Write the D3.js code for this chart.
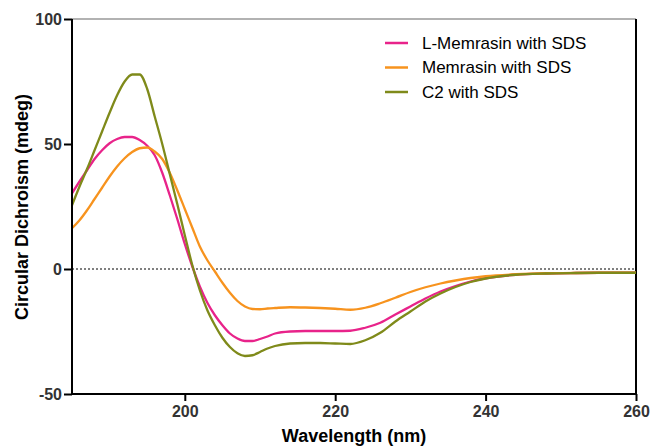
<!DOCTYPE html>
<html>
<head>
<meta charset="utf-8">
<script src="https://cdn.jsdelivr.net/npm/d3@7/dist/d3.min.js"></script>
<style>
  body { margin: 0; background: #fff; }
  svg { display: block; font-family: Arial, "Liberation Sans", sans-serif; }
</style>
</head>
<body>
<svg id="chart" width="651" height="448"></svg>
<script>
// wavelength (nm)
var wavelength = [185,186,187,188,189,190,191,192,193,194,195,196,197,198,199,200,
  201,202,203,204,205,206,207,208,209,210,211,212,214,216,218,220,222,224,226,228,
  230,232,234,236,238,240,244,248,252,256,260];

// CD signal (mdeg)
var lMemrasin = [30.3,35,39.5,44,47.5,50.3,52,52.8,52.8,51.6,49.3,45.5,38.5,29.5,20,10,
  1,-7,-13.5,-18.5,-22.5,-25.8,-27.8,-28.8,-28.8,-28,-27,-25.8,-25,-24.8,-24.8,-24.8,-24.7,-23.5,-21.5,-18.2,
  -15,-11.8,-9,-6.8,-5,-3.7,-2.3,-1.8,-1.6,-1.5,-1.5];

var memrasin = [16.3,19.5,23.5,28,32.5,37,41,44.3,46.8,48.3,48.6,47,44,38.5,31.5,24,
  16.5,9,3.5,-1,-5.5,-9.5,-12.8,-15,-16,-16.1,-15.8,-15.6,-15.3,-15.4,-15.6,-15.9,-16.3,-15.5,-13.7,-11.5,
  -9.2,-7.3,-5.8,-4.6,-3.6,-2.9,-2.1,-1.7,-1.6,-1.5,-1.5];

var c2 = [25.5,33,40,47.5,55,62.5,69.5,75,77.8,77.8,72,61,50,38,26,13.5,
  1.5,-8.5,-16.5,-22.5,-27.5,-31.2,-33.7,-34.8,-34.5,-33.2,-31.8,-30.8,-29.8,-29.6,-29.6,-29.8,-30,-28.5,-25.5,-21,
  -17,-13,-9.8,-7.2,-5.2,-3.8,-2.3,-1.8,-1.6,-1.5,-1.5];

var seriesNames = ["L-Memrasin with SDS", "Memrasin with SDS", "C2 with SDS"];
var seriesColors = ["#e8238a", "#f7931e", "#7f8a1a"];
var seriesValues = [lMemrasin, memrasin, c2];

var xTicks = [200, 220, 240, 260];
var yTicks = [-50, 0, 50, 100];

var svg = d3.select("#chart");
var plotLeft = 72, plotRight = 636, plotTop = 19, plotBottom = 394;

var x = d3.scaleLinear().domain([185, 260]).range([plotLeft, plotRight]);
var y = d3.scaleLinear().domain([-50, 100]).range([plotBottom, plotTop]);

// top / right frame
svg.append("line")
  .attr("x1", plotLeft).attr("x2", plotRight).attr("y1", plotTop).attr("y2", plotTop)
  .attr("stroke", "#999").attr("stroke-width", 1.5);
svg.append("line")
  .attr("x1", plotRight).attr("x2", plotRight).attr("y1", plotTop).attr("y2", plotBottom)
  .attr("stroke", "#000").attr("stroke-width", 2);

// zero line
svg.append("line")
  .attr("x1", plotLeft).attr("x2", plotRight).attr("y1", y(0)).attr("y2", y(0))
  .attr("stroke", "#000").attr("stroke-width", 1)
  .attr("stroke-dasharray", "2,2");

// curves
var line = d3.line()
  .x(function(d){ return x(d[0]); })
  .y(function(d){ return y(d[1]); })
  .curve(d3.curveMonotoneX);

seriesValues.forEach(function(vals, i){
  var pts = wavelength.map(function(w, j){ return [w, vals[j]]; });
  svg.append("path")
    .datum(pts)
    .attr("fill", "none")
    .attr("stroke", seriesColors[i])
    .attr("stroke-width", 2.3)
    .attr("d", line);
});

// axes (plain hyphen minus like the original)
var fmt = function(d){ return String(d); };
var xAxis = svg.append("g")
  .attr("transform", "translate(0," + plotBottom + ")")
  .call(d3.axisBottom(x).tickValues(xTicks).tickFormat(fmt).tickSize(7).tickPadding(5).tickSizeOuter(0));
var yAxis = svg.append("g")
  .attr("transform", "translate(" + plotLeft + ",0)")
  .call(d3.axisLeft(y).tickValues(yTicks).tickFormat(fmt).tickSize(8).tickPadding(2).tickSizeOuter(0));

[xAxis, yAxis].forEach(function(g){
  g.select(".domain").attr("stroke", "#000").attr("stroke-width", 2);
  g.selectAll(".tick line").attr("stroke", "#000").attr("stroke-width", 2);
  g.selectAll(".tick text")
    .attr("fill", "#333")
    .attr("font-size", "16px")
    .attr("font-weight", "bold")
    .attr("font-family", "Arial, 'Liberation Sans', sans-serif");
});
// make the two axis lines meet in the corner
xAxis.select(".domain").attr("d", "M" + (plotLeft - 1) + ",0H" + plotRight);
yAxis.select(".domain").attr("d", "M0," + plotTop + "V" + (plotBottom + 1));

// axis titles
svg.append("text")
  .attr("x", (plotLeft + plotRight) / 2).attr("y", 442)
  .attr("text-anchor", "middle")
  .attr("font-size", "18px").attr("font-weight", "bold").attr("fill", "#000")
  .text("Wavelength (nm)");
svg.append("text")
  .attr("transform", "translate(28,207) rotate(-90)")
  .attr("text-anchor", "middle")
  .attr("font-size", "18px").attr("font-weight", "bold").attr("fill", "#000")
  .text("Circular Dichroism (mdeg)");

// legend
var legend = svg.append("g").attr("transform", "translate(385,43)");
seriesNames.forEach(function(name, i){
  var row = legend.append("g").attr("transform", "translate(0," + (i * 24.5) + ")");
  row.append("line")
    .attr("x1", 0).attr("x2", 23).attr("y1", 0).attr("y2", 0)
    .attr("stroke", seriesColors[i]).attr("stroke-width", 2.5);
  row.append("text")
    .attr("x", 37).attr("y", 0).attr("dy", "0.35em")
    .attr("font-size", "17px").attr("fill", "#000")
    .text(name);
});
</script>
</body>
</html>
